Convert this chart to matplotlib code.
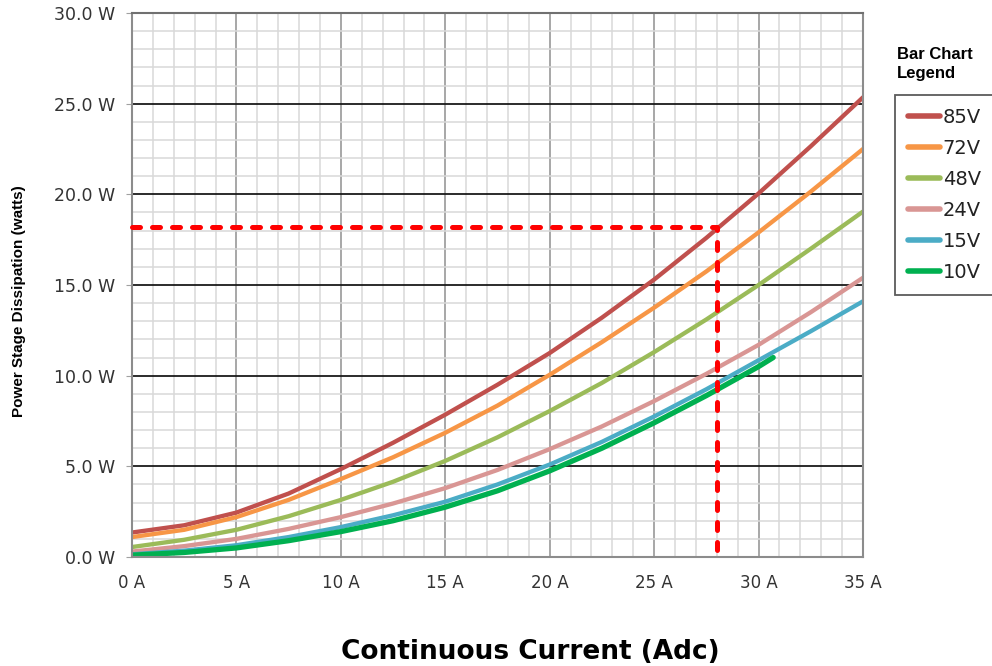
import numpy as np
import matplotlib.pyplot as plt
from matplotlib.ticker import MultipleLocator, FuncFormatter

current = [0, 2.5, 5, 7.5, 10, 12.5, 15, 17.5, 20, 22.5, 25, 27.5, 30, 32.5, 35]
p85 = [1.35, 1.75, 2.45, 3.5, 4.85, 6.3, 7.85, 9.5, 11.25, 13.2, 15.3, 17.6, 20.05, 22.65, 25.35]
p72 = [1.1, 1.5, 2.2, 3.15, 4.3, 5.5, 6.85, 8.35, 10.05, 11.85, 13.75, 15.75, 17.9, 20.15, 22.5]
p48 = [0.55, 0.95, 1.5, 2.25, 3.15, 4.15, 5.3, 6.6, 8.05, 9.6, 11.3, 13.1, 15.0, 17.0, 19.05]
p24 = [0.3, 0.6, 1.0, 1.55, 2.2, 2.95, 3.8, 4.8, 5.95, 7.2, 8.6, 10.1, 11.7, 13.5, 15.4]
p15 = [0.15, 0.35, 0.65, 1.1, 1.65, 2.3, 3.05, 4.0, 5.1, 6.35, 7.75, 9.25, 10.85, 12.45, 14.1]
current_10v = [0, 2.5, 5, 7.5, 10, 12.5, 15, 17.5, 20, 22.5, 25, 27.5, 30, 30.7]
p10 = [0.1, 0.25, 0.5, 0.9, 1.4, 2.0, 2.75, 3.65, 4.75, 6.0, 7.4, 8.9, 10.5, 11.0]

# operating point marked with red dashes
op_current = 28
op_power = 18.2

fig = plt.figure(figsize=(9.92, 6.66), dpi=100)
ax = fig.add_axes([132/992, 1-557/666, (863-132)/992, (557-13)/666])

ax.set_xlim(0, 35)
ax.set_ylim(0, 30)

# grid
ax.xaxis.set_major_locator(MultipleLocator(5))
ax.xaxis.set_minor_locator(MultipleLocator(1))
ax.yaxis.set_major_locator(MultipleLocator(5))
ax.yaxis.set_minor_locator(MultipleLocator(1))
ax.grid(which='minor', color='#d9d9d9', lw=1.1)
ax.grid(which='major', axis='x', color='#a0a0a0', lw=1.3)
ax.grid(which='major', axis='y', color='#1a1a1a', lw=1.3)
ax.set_axisbelow(True)

for s in ax.spines.values():
    s.set_color('#8c8c8c')
    s.set_linewidth(1.5)
ax.spines['top'].set_color('#707070')

ax.xaxis.set_major_formatter(FuncFormatter(lambda v, p: f"{v:.0f} A"))
ax.yaxis.set_major_formatter(FuncFormatter(lambda v, p: f"{v:.1f} W"))
ax.tick_params(axis='x', which='both', length=0, pad=12, labelsize=12, labelcolor='#333333')
ax.tick_params(axis='y', which='major', length=4, color='#a0a0a0', pad=8, labelsize=12.5, labelcolor='#333333')
ax.tick_params(axis='y', which='minor', length=0)

# curves
lw = 3.1
ax.plot(current, p85, color='#C0504D', lw=lw, label='85V', solid_capstyle='round', solid_joinstyle='round')
ax.plot(current, p72, color='#F79646', lw=lw, label='72V', solid_capstyle='round', solid_joinstyle='round')
ax.plot(current, p48, color='#9BBB59', lw=lw, label='48V', solid_capstyle='round', solid_joinstyle='round')
ax.plot(current, p24, color='#D99694', lw=lw, label='24V', solid_capstyle='round', solid_joinstyle='round')
ax.plot(current, p15, color='#4BACC6', lw=lw, label='15V', solid_capstyle='round', solid_joinstyle='round')
ax.plot(current_10v, p10, color='#00B050', lw=3.8, label='10V', solid_capstyle='round', solid_joinstyle='round')

# red dashed guide
ax.plot([0, op_current, op_current], [op_power, op_power, 0], color='#FF0000', lw=3.6,
        dashes=(1.6, 2.4), dash_capstyle='round', clip_on=False, zorder=5)

ax.set_ylabel('Power Stage Dissipation (watts)', fontsize=11, fontweight='bold',
              family='Liberation Sans')
ax.yaxis.set_label_coords(-106/731, 0.47)
fig.text(530/992, 1-652/666, 'Continuous Current (Adc)', fontsize=19, fontweight='bold',
         ha='center', va='center')

fig.text(897/992, 1-64/666, 'Bar Chart\nLegend', fontsize=12, fontweight='bold',
         family='Liberation Sans', ha='left', va='center', linespacing=1.3)
leg = fig.legend(loc='upper left', bbox_to_anchor=(895/992, 1-95/666), borderaxespad=0,
                 fancybox=False, edgecolor='#333333', fontsize=14, handlelength=1.65,
                 handletextpad=0.15, labelspacing=0.62, borderpad=0.65)
leg.get_frame().set_linewidth(1.3)
for line in leg.get_lines():
    line.set_linewidth(4)
for t in leg.get_texts():
    t.set_color('#222222')

fig.savefig('out.png', dpi=100)
